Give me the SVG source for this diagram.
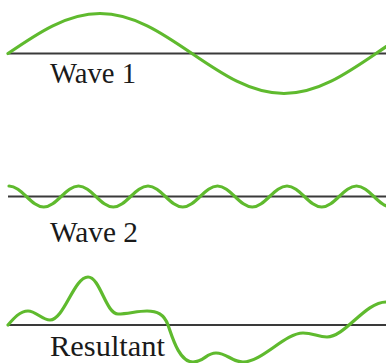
<svg xmlns="http://www.w3.org/2000/svg" width="386" height="363" viewBox="0 0 386 363">
<style>
.axis{stroke:#3a3a3a;stroke-width:1.8;fill:none}
.wave{stroke:#5fba2e;stroke-width:3.2;fill:none;stroke-linecap:round;stroke-linejoin:round}
text{font-family:'Liberation Serif','DejaVu Serif',serif;font-size:29px;fill:#1a1a1a}
</style>
<rect width="386" height="363" fill="#ffffff"/>
<g id="wave1">
<line class="axis" x1="8" y1="53.5" x2="386" y2="53.5"/>
<path class="wave" d="M8,53.5 C38,33 66.7,13.5 100,13.5 C133.3,13.5 162,33 192,53.5 C222,74 250.7,93.5 284,93.5 C317.3,93.5 346,74 376,53.5 C406,33 434.7,13.5 468,13.5"/>
<text x="50" y="82.5" font-family="Liberation Serif, DejaVu Serif, serif" textLength="86" lengthAdjust="spacingAndGlyphs">Wave 1</text>
</g>
<g id="wave2">
<line class="axis" x1="8" y1="196.5" x2="386" y2="196.5"/>
<path class="wave" d="M9,186
c6.29,0 11.705,5.12 17.375,10.5 c5.67,5.38 11.085,10.5 17.375,10.5 c6.29,0 11.705,-5.12 17.375,-10.5 c5.67,-5.38 11.085,-10.5 17.375,-10.5
c6.29,0 11.705,5.12 17.375,10.5 c5.67,5.38 11.085,10.5 17.375,10.5 c6.29,0 11.705,-5.12 17.375,-10.5 c5.67,-5.38 11.085,-10.5 17.375,-10.5
c6.29,0 11.705,5.12 17.375,10.5 c5.67,5.38 11.085,10.5 17.375,10.5 c6.29,0 11.705,-5.12 17.375,-10.5 c5.67,-5.38 11.085,-10.5 17.375,-10.5
c6.29,0 11.705,5.12 17.375,10.5 c5.67,5.38 11.085,10.5 17.375,10.5 c6.29,0 11.705,-5.12 17.375,-10.5 c5.67,-5.38 11.085,-10.5 17.375,-10.5
c6.29,0 11.705,5.12 17.375,10.5 c5.67,5.38 11.085,10.5 17.375,10.5 c6.29,0 11.705,-5.12 17.375,-10.5 c5.67,-5.38 11.085,-10.5 17.375,-10.5
c6.29,0 11.705,5.12 17.375,10.5 c5.67,5.38 11.085,10.5 17.375,10.5"/>
<text x="50" y="242" font-family="Liberation Serif, DejaVu Serif, serif" textLength="88" lengthAdjust="spacingAndGlyphs">Wave 2</text>
</g>
<g id="resultant">
<line class="axis" x1="8" y1="325" x2="386" y2="325"/>
<path class="wave" d="M8,325 C14,318 20,311 28,311 C36,311 42,320 50,320 C64,320 74,277 88,277 C100,277 106,314 118,314 C128,314 137,311 147,311 C157,311 164,314 168,325 C172,336 179,362 193,362 C204,362 206,353 216,353 C227,353 232,362 243,362 C262,362 285,333 303,333 C313,333 318,337 327,337 C345,337 365,302 386,302 C392,302 396,302 400,303"/>
<text x="50" y="356" font-family="Liberation Serif, DejaVu Serif, serif" textLength="115" lengthAdjust="spacingAndGlyphs">Resultant</text>
</g>
</svg>
